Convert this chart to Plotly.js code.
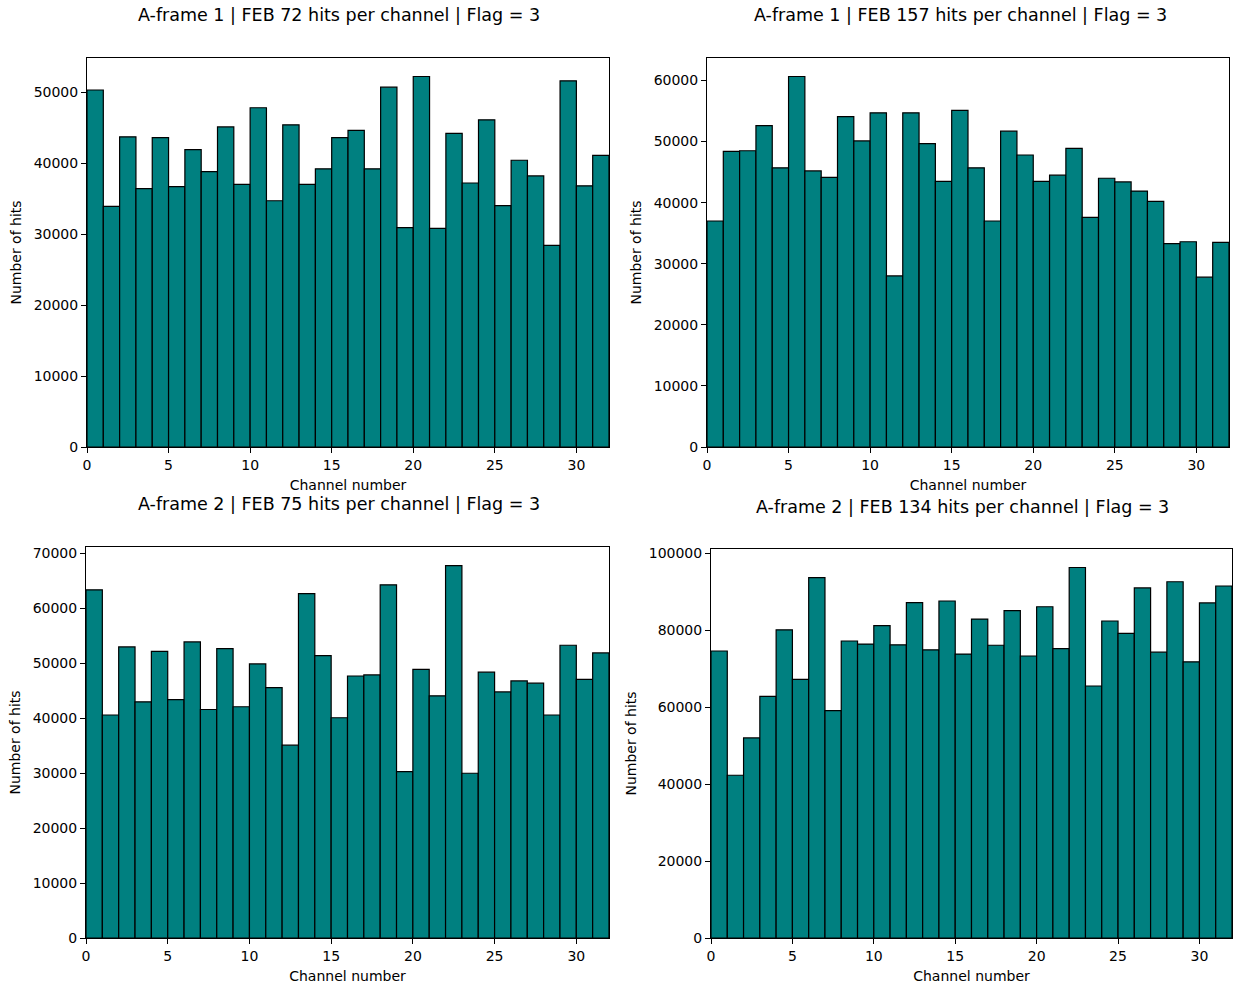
<!DOCTYPE html>
<html>
<head>
<meta charset="utf-8">
<script src="https://cdn.plot.ly/plotly-3.0.1.min.js"></script>
<style>html,body{margin:0;padding:0;background:#fff;}#chart{width:1233px;height:986px;}</style>
</head>
<body>
<div id="chart"></div>
<script>
// Channel numbers (bin left edges, bins of width 1 from 0 to 32)
const channels = Array.from({length: 32}, (_, i) => i);

const titles = [
  "A-frame 1 | FEB 72 hits per channel | Flag = 3",
  "A-frame 1 | FEB 157 hits per channel | Flag = 3",
  "A-frame 2 | FEB 75 hits per channel | Flag = 3",
  "A-frame 2 | FEB 134 hits per channel | Flag = 3"
];

const hitsFeb72 = [50300, 33900, 43700, 36400, 43600, 36700, 41900, 38800, 45100, 37000, 47800, 34700,
  45400, 37000, 39200, 43600, 44600, 39200, 50700, 30900, 52200, 30800, 44200, 37200,
  46100, 34000, 40400, 38200, 28400, 51600, 36800, 41100];

const hitsFeb157 = [37000, 48400, 48500, 52600, 45700, 60650, 45200, 44150, 54100, 50100, 54700, 28000,
  54700, 49650, 43500, 55100, 45700, 37000, 51700, 47800, 43500, 44500, 48900, 37600,
  44000, 43400, 41900, 40200, 33300, 33600, 27800, 33500];

const hitsFeb75 = [63400, 40600, 53000, 43000, 52200, 43400, 53900, 41600, 52700, 42100, 49900, 45600,
  35100, 62700, 51400, 40100, 47700, 47900, 64300, 30300, 48900, 44100, 67800, 30000,
  48400, 44800, 46800, 46400, 40600, 53300, 47100, 51900];

const hitsFeb134 = [74600, 42300, 52000, 62800, 80100, 67200, 93700, 59100, 77200, 76400, 81200, 76200,
  87200, 74900, 87600, 73800, 82900, 76100, 85100, 73300, 86100, 75200, 96300, 65500,
  82400, 79200, 91000, 74300, 92600, 71800, 87100, 91500];

const series = [hitsFeb72, hitsFeb157, hitsFeb75, hitsFeb134];
const yDticks = [10000, 10000, 10000, 20000];

const W = 1233, H = 986;
// pixel boxes of each panel: [left, right, top, bottom]
const boxes = [
  [87, 609, 58, 447],
  [707, 1229, 58, 447],
  [86, 609, 547, 938],
  [711, 1232, 549, 938]
];
const titlePos = [[339, 15], [960, 15], [339, 504], [962, 507]];

const FONT = "DejaVu Sans, sans-serif";
const traces = [];
const layout = {
  width: W, height: H,
  margin: {l: 0, r: 0, t: 0, b: 0},
  paper_bgcolor: "#fff", plot_bgcolor: "#fff",
  showlegend: false,
  font: {family: FONT, size: 14, color: "#000"},
  annotations: []
};

series.forEach((vals, i) => {
  const n = i + 1;
  const xa = n === 1 ? "x" : "x" + n;
  const ya = n === 1 ? "y" : "y" + n;
  traces.push({
    type: "bar",
    x: channels,
    y: vals,
    width: 1,
    offset: 0,
    xaxis: xa, yaxis: ya,
    marker: {color: "#008080", line: {color: "#000", width: 1.2}},
    hoverinfo: "x+y"
  });
  const b = boxes[i];
  const ymax = Math.max(...vals) * 1.05;
  layout["xaxis" + (n === 1 ? "" : n)] = {
    domain: [b[0] / W, b[1] / W],
    anchor: ya,
    range: [0, 32],
    tickmode: "linear", tick0: 0, dtick: 5,
    ticks: "outside", ticklen: 5, tickwidth: 1, tickcolor: "#000",
    showline: true, mirror: true, linecolor: "#000", linewidth: 1,
    showgrid: false, zeroline: false,
    tickfont: {family: FONT, size: 14, color: "#000"},
    title: {text: "Channel number", font: {family: FONT, size: 14, color: "#000"}, standoff: 8}
  };
  layout["yaxis" + (n === 1 ? "" : n)] = {
    domain: [1 - b[3] / H, 1 - b[2] / H],
    anchor: xa,
    range: [0, ymax],
    tickmode: "linear", tick0: 0, dtick: yDticks[i],
    tickformat: "d",
    ticks: "outside", ticklen: 5, tickwidth: 1, tickcolor: "#000",
    showline: true, mirror: true, linecolor: "#000", linewidth: 1,
    showgrid: false, zeroline: false,
    tickfont: {family: FONT, size: 14, color: "#000"},
    title: {text: "Number of hits", font: {family: FONT, size: 14, color: "#000"}, standoff: 8}
  };
  layout.annotations.push({
    text: titles[i],
    xref: "paper", yref: "paper",
    x: titlePos[i][0] / W, y: 1 - titlePos[i][1] / H,
    xanchor: "center", yanchor: "middle",
    showarrow: false,
    font: {family: FONT, size: 17.5, color: "#000"}
  });
});

Plotly.newPlot("chart", traces, layout, {displayModeBar: false, staticPlot: true});
</script>
</body>
</html>
